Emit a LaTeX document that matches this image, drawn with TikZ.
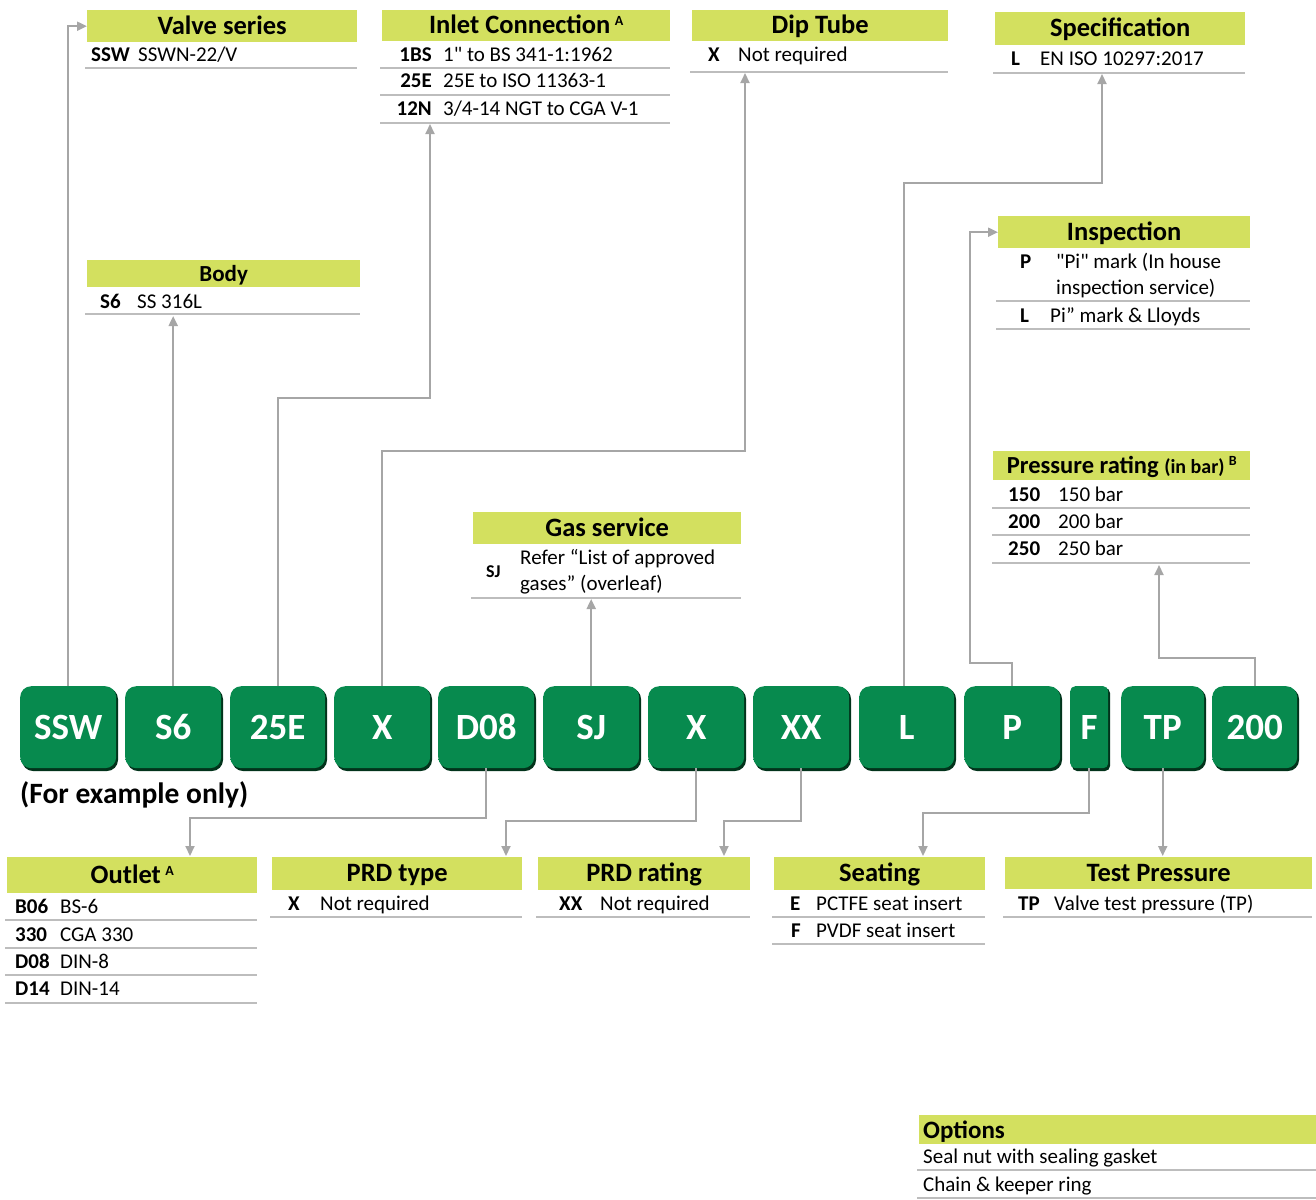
\documentclass[tikz,border=0pt]{standalone}
\usepackage{fontspec}
\setmainfont{Carlito}[Ligatures=TeXOff]
\usetikzlibrary{arrows.meta,calc}
\definecolor{lime}{HTML}{D3E05F}
\definecolor{gline}{HTML}{BDBDBD}
\definecolor{conncol}{HTML}{A6A6A6}
\definecolor{gmain}{HTML}{078A4E}
\definecolor{gdark}{HTML}{045E35}
\definecolor{glight}{HTML}{35B878}
\definecolor{gshadow}{HTML}{02331B}
\pgfdeclareverticalshading{gbev}{100bp}{color(0bp)=(gdark); color(9bp)=(gmain); color(86bp)=(gmain); color(94bp)=(glight); color(100bp)=(gmain)}
\tikzset{
  hd/.style={fill=lime, inner sep=0pt, anchor=north west, text height=17pt, text depth=1pt, font=\fontsize{26.5}{29}\selectfont\bfseries},
  cd/.style={inner sep=0pt, anchor=base west, font=\fontsize{21}{24}\selectfont\bfseries},
  ds/.style={inner sep=0pt, anchor=base west, font=\fontsize{21}{24}\selectfont},
  rl/.style={draw=gline, line width=1.6pt},
  conn/.style={draw=conncol, line width=2pt, -{Triangle[length=10pt,width=9pt]}},
  gb/.style={anchor=north west, minimum height=82pt, rounded corners=11pt, shade, shading=gbev, text=white, font=\fontsize{37}{40}\selectfont\bfseries, inner sep=0pt},
}
\newcommand\hdrbox[6]{\node[hd, minimum width={(#4-#2)*1pt}, minimum height={(#5-#3)*1pt}] (#1) at (#2,#3) {#6};}
\newcommand\gbtn[4]{%
  \fill[gshadow, rounded corners=11pt] (#2+2,688) rectangle (#3+2,771);
  \node[gb, minimum width={(#3-#2)*1pt}] (#1) at (#2,686) {#4};}
\newcommand\supA[1]{\,\raisebox{8pt}{\fontsize{14}{14}\selectfont #1}}
\begin{document}
\begin{tikzpicture}[x=1pt,y=-1pt]
\useasboundingbox (0,0) rectangle (1316,1199);

% ---------- top tables ----------
\hdrbox{hValve}{87}{10}{357}{42}{Valve series}
\node[cd] (cSSW) at (91,61) {SSW};
\node[ds] (dSSW) at (138,61) {SSWN-22/V};
\draw[rl] (85,68) -- (357,68);

\hdrbox{hInlet}{382}{10}{670}{41}{Inlet Connection\supA{A}}
\node[cd, anchor=base east] (c1BS) at (432,61) {1BS};
\node[ds] (d1BS) at (443,61) {1" to BS 341-1:1962};
\draw[rl] (380,68) -- (670,68);
\node[cd, anchor=base east] (c25E) at (432,88) {25E};
\node[ds] (d25E) at (443,88) {25E to ISO 11363-1};
\draw[rl] (380,95) -- (670,95);
\node[cd, anchor=base east] (c12N) at (432,115) {12N};
\node[ds] (d12N) at (443,115) {3/4-14 NGT to CGA V-1};
\draw[rl] (380,123) -- (670,123);

\hdrbox{hDip}{692}{10}{948}{41}{Dip Tube}
\node[cd] (cDipX) at (708,61) {X};
\node[ds] (dDipX) at (738,61) {Not required};
\draw[rl] (690,72) -- (948,72);

\hdrbox{hSpec}{995}{12}{1245}{45}{Specification}
\node[cd] (cSpecL) at (1011,65) {L};
\node[ds] (dSpecL) at (1040,65) {EN ISO 10297:2017};
\draw[rl] (993,73) -- (1245,73);

\hdrbox{hBody}{87}{260}{360}{287}{\fontsize{23}{25}\selectfont Body}
\node[cd] (cS6) at (100,308) {S6};
\node[ds] (dS6) at (137,308) {SS 316L};
\draw[rl] (85,314) -- (360,314);

\hdrbox{hInsp}{998}{216}{1250}{248}{Inspection}
\node[cd] (cInspP) at (1020,268) {P};
\node[ds] (dInspP1) at (1056,268) {"Pi" mark (In house};
\node[ds] (dInspP2) at (1056,294) {inspection service)};
\draw[rl] (996,301) -- (1250,301);
\node[cd] (cInspL) at (1020,322) {L};
\node[ds] (dInspL) at (1050,322) {Pi” mark \& Lloyds};
\draw[rl] (996,329) -- (1250,329);

\hdrbox{hGas}{473}{512}{741}{544}{Gas service}
\node[cd, font=\fontsize{18}{20}\selectfont\bfseries] (cSJ) at (486,577) {SJ};
\node[ds] (dSJ1) at (520,564) {Refer “List of approved};
\node[ds] (dSJ2) at (520,590) {gases” (overleaf)};
\draw[rl] (471,598) -- (741,598);

\hdrbox{hPress}{993}{451}{1250}{480}{\fontsize{24.5}{27}\selectfont Pressure rating {\fontsize{20}{22}\selectfont (in bar)}\supA{B}}
\node[cd] (c150) at (1008,501) {150};
\node[ds] (d150) at (1058,501) {150 bar};
\draw[rl] (992,508) -- (1250,508);
\node[cd] (c200) at (1008,528) {200};
\node[ds] (d200) at (1058,528) {200 bar};
\draw[rl] (992,535) -- (1250,535);
\node[cd] (c250) at (1008,555) {250};
\node[ds] (d250) at (1058,555) {250 bar};
\draw[rl] (992,563) -- (1250,563);

% ---------- bottom tables ----------
\hdrbox{hOutlet}{7}{857}{257}{893}{Outlet\supA{A}}
\node[cd] (cB06) at (15,913) {B06};
\node[ds] (dB06) at (60,913) {BS-6};
\draw[rl] (5,920) -- (257,920);
\node[cd] (c330) at (15,941) {330};
\node[ds] (d330) at (60,941) {CGA 330};
\draw[rl] (5,948) -- (257,948);
\node[cd] (cD08) at (15,968) {D08};
\node[ds] (dD08) at (60,968) {DIN-8};
\draw[rl] (5,975) -- (257,975);
\node[cd] (cD14) at (15,995) {D14};
\node[ds] (dD14) at (60,995) {DIN-14};
\draw[rl] (5,1003) -- (257,1003);

\hdrbox{hPRDt}{272}{857}{522}{890}{PRD type}
\node[cd] (cPRDtX) at (288,910) {X};
\node[ds] (dPRDtX) at (320,910) {Not required};
\draw[rl] (270,917) -- (522,917);

\hdrbox{hPRDr}{538}{857}{750}{890}{PRD rating}
\node[cd] (cPRDrXX) at (559,910) {XX};
\node[ds] (dPRDrXX) at (600,910) {Not required};
\draw[rl] (536,917) -- (750,917);

\hdrbox{hSeat}{774}{857}{985}{890}{Seating}
\node[cd] (cSeatE) at (790,910) {E};
\node[ds] (dSeatE) at (816,910) {PCTFE seat insert};
\draw[rl] (772,917) -- (985,917);
\node[cd] (cSeatF) at (791,937) {F};
\node[ds] (dSeatF) at (816,937) {PVDF seat insert};
\draw[rl] (772,944) -- (985,944);

\hdrbox{hTest}{1005}{857}{1312}{889}{Test Pressure}
\node[cd] (cTP) at (1018,910) {TP};
\node[ds] (dTP) at (1054,910) {Valve test pressure (TP)};
\draw[rl] (1003,917) -- (1312,917);

\hdrbox{hOpt}{919}{1115}{1316}{1144}{}
\node[cd, font=\fontsize{25}{27}\selectfont\bfseries] (tOpt) at (923,1138) {Options};
\node[ds] (dOpt1) at (923,1163) {Seal nut with sealing gasket};
\draw[rl] (917,1170) -- (1316,1170);
\node[ds] (dOpt2) at (923,1191) {Chain \& keeper ring};
\draw[rl] (917,1198) -- (1316,1198);

% ---------- green code boxes ----------
\gbtn{gSSW}{20}{116}{SSW}
\gbtn{gS6}{125}{221}{S6}
\gbtn{g25E}{230}{325}{25E}
\gbtn{gX1}{334}{430}{X}
\gbtn{gD08}{438}{534}{D08}
\gbtn{gSJ}{543}{639}{SJ}
\gbtn{gX2}{648}{744}{X}
\gbtn{gXX}{753}{849}{XX}
\gbtn{gL}{859}{954}{L}
\gbtn{gP}{964}{1060}{P}
\fill[gshadow, rounded corners=5pt] (1072,688) rectangle (1110,771);
\node[gb, rounded corners=5pt, minimum width=38pt] (gF) at (1070,686) {F};
\gbtn{gTP}{1121}{1204}{TP}
\gbtn{g200}{1212}{1297}{200}

\node[inner sep=0pt, anchor=base west, font=\fontsize{29.5}{32}\selectfont\bfseries] (example) at (20,803) {(For example only)};

% ---------- arrow targets ----------
\coordinate (aBody) at (173,316);
\coordinate (aInlet) at (430,124);
\coordinate (aDip) at (745,73);
\coordinate (aGas) at (591,599);
\coordinate (aSpec) at (1102,74);
\coordinate (aPress) at (1159,565);
\coordinate (aOutlet) at (190,856);
\coordinate (aPRDt) at (506,856);
\coordinate (aPRDr) at (724,856);
\coordinate (aSeat) at (923,856);
\coordinate (aTest) at (1162,856);

% ---------- connectors ----------
\draw[conn] (gSSW.north) |- (hValve.west);
\draw[conn] (gS6.north) -- (gS6.north |- aBody);
\draw[conn] (g25E.north) -- ++(0,-288) -| (aInlet);
\draw[conn] (gX1.north) -- ++(0,-235) -| (aDip);
\draw[conn] (gSJ.north) -- (gSJ.north |- aGas);
\draw[conn] ([xshift=-3pt]gL.north) -- ++(0,-503) -| (aSpec);
\draw[conn] (gP.north) -- ++(0,-23) -- ++(-42,0) |- (hInsp.west);
\draw[conn] (g200.north) -- ++(0,-28) -| (aPress);

\draw[conn] (gD08.south) -- ++(0,50) -| (aOutlet);
\draw[conn] (gX2.south) -- ++(0,53) -| (aPRDt);
\draw[conn] (gXX.south) -- ++(0,53) -| (aPRDr);
\draw[conn] (gF.south) -- ++(0,45) -| (aSeat);
\draw[conn] (gTP.south) -- (gTP.south |- aTest);
\end{tikzpicture}
\end{document}
